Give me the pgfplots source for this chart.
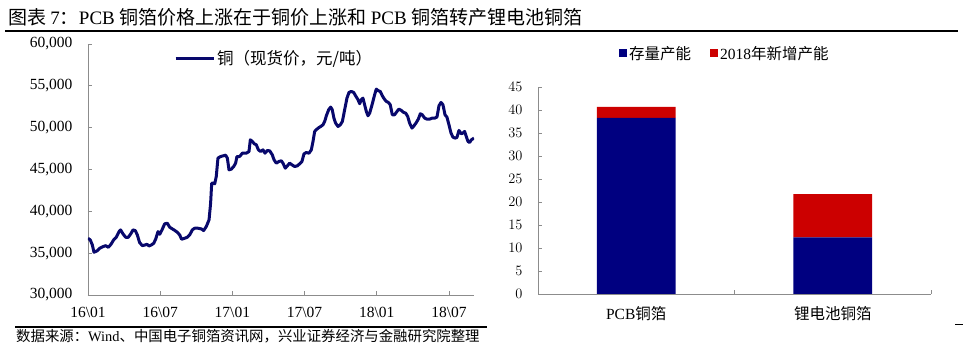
\documentclass[border=0pt]{standalone}
\usepackage{pgfplots}
\pgfplotsset{compat=1.18}
\usepackage{fontspec}
\setmainfont{Liberation Serif}
\newfontfamily\cjk{Noto Sans CJK SC}
\definecolor{navy}{RGB}{0,0,128}
\definecolor{linenavy}{RGB}{8,8,108}
\definecolor{barred}{RGB}{204,0,0}
\definecolor{axgray}{RGB}{140,140,140}
\pgfplotsset{sqlegend/.style={legend image code/.code={\fill[##1] (0pt,-4pt) rectangle (8pt,4pt);}}}
\begin{document}
\begin{tikzpicture}
\useasboundingbox (0pt,0pt) rectangle (977pt,345pt);
% title and rules
\node[anchor=west, inner sep=0pt, font=\fontsize{19}{19}\selectfont] at (8pt,328pt)
  {{\cjk 图表 }7{\cjk ：}PCB {\cjk 铜箔价格上涨在于铜价上涨和 }PCB {\cjk 铜箔转产锂电池铜箔}};
\draw[line width=1.5pt] (5pt,314pt) -- (958pt,314pt);
\draw[line width=1.2pt] (15pt,18pt) -- (487pt,18pt);
\draw[line width=1pt] (955pt,20pt) -- (963pt,20pt);
\node[anchor=west, inner sep=0pt, font=\fontsize{14.4}{14.4}\selectfont] at (16pt,9pt)
  {{\cjk 数据来源：}Wind{\cjk 、中国电子铜箔资讯网，兴业证券经济与金融研究院整理}};

\begin{axis}[
  at={(88pt,50pt)}, anchor=south west, scale only axis,
  width=386pt, height=251pt,
  xmin=0, xmax=32.08, ymin=30000, ymax=60000,
  axis x line*=bottom, axis y line*=left,
  axis line style={axgray, line width=0.8pt, -},
  xtick={0,6,12,18,24,30},
  xticklabels={16\textbackslash 01,16\textbackslash 07,17\textbackslash 01,17\textbackslash 07,18\textbackslash 01,18\textbackslash 07},
  ytick={30000,35000,40000,45000,50000,55000,60000},
  scaled y ticks=false,
  /pgf/number format/1000 sep={,},
  /pgf/number format/assume math mode=true,
  tick align=inside, major tick length=4pt,
  tick style={axgray, line width=0.8pt},
  tick label style={font=\fontsize{15.5}{15.5}\selectfont},
  xticklabel style={yshift=-9pt},
  yticklabel style={xshift=-12pt},
  legend style={at={(0.2228,0.944)}, anchor=west, draw=none, fill=none, inner sep=0pt,
    font=\cjk\fontsize{16.5}{16.5}\selectfont},
  legend image code/.code={\draw[#1] (0pt,0pt) -- (38pt,0pt);},
]
\addplot[linenavy, line width=3pt, line join=round] coordinates {
(0,36780) (0.19,36580) (0.36,35980) (0.50,35110) (0.75,35270) (0.97,35590)
(1.25,35780) (1.47,35900) (1.69,35700) (1.91,36060) (2.13,36580) (2.35,36900)
(2.58,37580) (2.71,37780) (2.91,37300) (3.13,36900) (3.35,36900) (3.55,37300)
(3.74,37780) (3.93,37700) (4.10,37180) (4.29,36260) (4.52,35900) (4.74,35980)
(4.90,36060) (5.07,35860) (5.26,35980) (5.46,36180) (5.62,36660) (5.82,37580)
(5.96,37260) (6.15,37780) (6.37,38500) (6.59,38580) (6.79,38100) (7.01,37900)
(7.23,37700) (7.42,37500) (7.62,37180) (7.78,36660) (8.03,36780) (8.25,36900)
(8.45,37180) (8.67,37780) (8.86,37980) (9.14,37980) (9.42,37900) (9.61,37700)
(9.83,38180) (10.06,38980) (10.19,40970) (10.28,43360) (10.42,43360) (10.53,43280)
(10.66,44160) (10.80,46360) (11.02,46550) (11.22,46630) (11.44,46710) (11.58,46360)
(11.72,44960) (11.91,45040) (12.11,45360) (12.27,45760) (12.38,46550) (12.60,46550)
(12.83,46950) (13.16,46950) (13.38,47150) (13.49,48550) (13.66,48350) (13.82,48070)
(13.99,47950) (14.16,47350) (14.35,47150) (14.54,47350) (14.71,46950) (14.90,47270)
(15.10,47230) (15.32,46750) (15.46,46160) (15.65,45760) (15.87,45960) (16.07,46040)
(16.20,45760) (16.40,45160) (16.57,45440) (16.76,45760) (16.95,45560) (17.17,45360)
(17.40,45440) (17.59,45680) (17.78,45960) (17.95,46870) (18.14,47030) (18.37,46950)
(18.56,47350) (18.70,48350) (18.84,49550) (19.03,49830) (19.20,50020) (19.34,50140)
(19.53,50340) (19.67,50740) (19.81,51420) (20.00,52140) (20.17,52460) (20.30,52140)
(20.44,51140) (20.58,50540) (20.78,50140) (20.97,50340) (21.14,50740) (21.33,52140)
(21.52,53530) (21.69,54210) (21.88,54330) (22.08,54210) (22.24,53810) (22.44,53340)
(22.58,52860) (22.71,53340) (22.85,53530) (22.99,52740) (23.13,51940) (23.27,51420)
(23.41,51740) (23.63,52860) (23.82,53930) (23.96,54610) (24.13,54410) (24.29,54330)
(24.46,53810) (24.63,53420) (24.79,53140) (24.96,53020) (25.12,52740) (25.29,51540)
(25.48,51540) (25.68,51940) (25.84,52220) (26.04,52060) (26.23,51820) (26.40,51740)
(26.57,51340) (26.73,50540) (26.93,49950) (27.09,50220) (27.29,50620) (27.45,51020)
(27.62,51660) (27.78,51540) (27.98,51140) (28.17,51020) (28.39,51020) (28.61,51140)
(28.81,51140) (29.00,51260) (29.17,52620) (29.34,53020) (29.50,52740) (29.67,51540)
(29.83,51260) (30.00,50340) (30.17,49350) (30.33,48870) (30.50,48750) (30.66,48830)
(30.83,49670) (31.02,49270) (31.16,49350) (31.30,49550) (31.44,48950) (31.58,48350)
(31.72,48230) (31.86,48550) (32.08,48750)
};
\addlegendentry{铜（现货价，元/吨）}
\end{axis}

\begin{axis}[
  at={(538pt,51pt)}, anchor=south west, scale only axis,
  width=393pt, height=207pt,
  xmin=0, xmax=2, ymin=0, ymax=45,
  ybar stacked, bar width=0.4,
  axis x line*=bottom, axis y line*=left,
  axis line style={axgray, line width=0.8pt, -},
  xtick={0.5,1.5},
  xticklabels={{PCB{\cjk 铜箔}},{\cjk 锂电池铜箔}},
  minor xtick={0,1,2},
  ytick={0,5,...,45},
  tick align=inside, major tick length=4pt, minor tick length=4pt,
  tick style={axgray, line width=0.8pt},
  major x tick style={draw=none},
  minor x tick style={draw=axgray, line width=0.8pt},
  xticklabel style={font=\fontsize{15.5}{15.5}\selectfont, yshift=-9pt},
  yticklabel style={font=\fontsize{15}{15}\selectfont, xshift=-12pt},
  legend columns=2,
  legend style={at={(0.206,1.162)}, anchor=west, draw=none, fill=none, inner sep=0pt,
    font=\fontsize{15.5}{15.5}\selectfont,
    /tikz/every even column/.append style={column sep=17pt}},
]
\addplot[fill=navy, draw=none, sqlegend]
  coordinates {(0.5,38.3) (1.5,12.3)};
\addlegendentry{{\cjk 存量产能}}
\addplot[fill=barred, draw=none, sqlegend]
  coordinates {(0.5,2.4) (1.5,9.4)};
\addlegendentry{2018{\cjk 年新增产能}}
\end{axis}
\end{tikzpicture}
\end{document}
